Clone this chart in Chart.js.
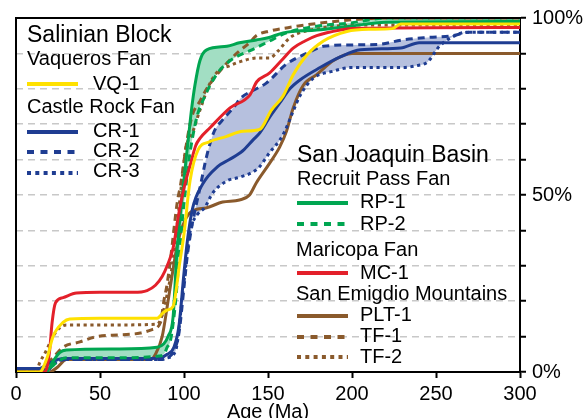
<!DOCTYPE html>
<html><head><meta charset="utf-8">
<script src="https://cdn.jsdelivr.net/npm/chart.js@4.4.1/dist/chart.umd.min.js"></script>
<style>html,body{margin:0;padding:0;background:#fff;overflow:hidden}</style>
</head><body>
<canvas id="c" width="586" height="418"></canvas>
<script>
// ---- data (age in Ma, cumulative %) ----
const xTicks = [0, 50, 100, 150, 200, 250, 300];
const yTickLabels = [0, 50, 100];
const seriesNames = ['VQ-1','MC-1','RP-1','RP-2','CR-1','CR-2','CR-3','PLT-1','TF-1','TF-2'];

const vq1Age = [0,14,18.5,22,28,32,50,84,87.5,90,93.5,97.5,100,103.6,108.3,115,125,135,145,152,159,165,173,183,197,210,224,229,300];
const vq1Pct = [0,0,4,10,14,15,15.2,15.2,16.7,17.5,18.5,31,39,54,62.7,65,66.5,68,68.5,74,78,84,89.5,93.5,96.2,96.8,97,98.3,98.3];

const mc1Age = [0,17,18.5,20,21.5,23.5,28,36,50,70,78,83,87,90,93.5,97,100,104,107,109.5,115.5,127.4,139.3,143.3,151,158,165,172,179,193,200,300];
const mc1Pct = [0,0,1.4,6,14,19.5,21,22.3,22.5,22.5,23,24.5,27,30,35,45,52,59,64,66,69,74.6,78.3,82,84.5,88,91.5,93.5,95,96.6,97,97.3];

const cr1Age = [0,14,18,22,28,50,80,86,90,94,97,100,102,105,111,120,127,135,141,145,151,157,163,169,181,193,205,229,240,300];
const cr1Pct = [1,1,2,3,3.8,3.8,3.8,4,5,7,13,28,37,46,53,58,60,62.5,65.5,67.5,72,76,80,82.5,86,89,91,91.5,93,93];

const cr2Age = [0,16,20,25,30,50,85,90,94,97,100,102,105,109.5,113.5,118,122.6,130,134,141,149,161,173,183,200,215,230,245,260,270,300];
const cr2Pct = [0.5,0.5,1.5,3,3.5,3.5,3.5,4,6,11,24,33,42,52,61,68,71,75,77.5,79.5,81.6,87,90,92,92.4,92.5,93.8,94.5,95,96,96];

const cr3Age = [0,18,22,28,50,85,90,95,99.4,103,105,108,112.5,117,125.6,133,141,145,151,157,160,165,169,177,189,199,230,238,245,252,260,268,300];
const cr3Pct = [0,0,2,3.5,3.5,3.5,4,6,23,38,42,44.5,46.6,50.5,54,55,56.5,58,62,65.5,68,73.7,78,83,85,86,86,86.5,87.6,92,94.7,96,96];

const rp1Age = [0,18,22,26,30,60,84,88,90.5,93.5,95.8,99,102.6,104.6,106.5,109.5,113.5,125.6,133,143,150,159,179,199,220,300];
const rp1Pct = [0,0,3,5.5,6.2,6.5,7,8,10,15.5,34,50,66,74.6,81,88,91,92,93,93.8,94.4,95.8,96.6,97.7,98.8,99];

const rp2Age = [0,16,20,25,30,60,85,88,90,92,95,98,101,103,105,108,112.5,116.7,121.4,127,133,139,151,161,179,199,221,300];
const rp2Pct = [0,0,1,3,4,4,4.5,5,7,9,20,38,52,60,66,72.6,78,82,85.3,87.8,89.5,90.7,93.5,95.8,97.7,98.6,100,100];

const plt1Age = [0,20,25,30,80,83,87,90.5,93.5,96,99,103.6,113.5,123,133,139,143,151,157,161,165,171,179,189,200,300];
const plt1Pct = [0,0,1.5,3.5,3.5,5,10,20,29,36,41,45,46.4,48,48.6,50,53.4,59,63.6,68,74.6,81,84,88,90,90];

const tf1Age = [0,15,18,22,28,38,48,62,74,81,86,88,90,92,96,98,102,105,109.5,113.5,119.6,127,133,139,143,151,165,180,200,220,300];
const tf1Pct = [0,0,2,4,7,8.5,10,10.5,11,12,14,20,25,32,48,53,66,72.6,76.5,80,84,88,90.7,93,95,96.3,97.5,98.5,99.5,100,100];

const tf2Age = [0,12,14,18,22,26,30,60,84,87,90,93,96,99,101,105,109.5,115.5,121,127,133,143.5,151,156,163,170,180,200,300];
const tf2Pct = [0,0,2.5,6,10,12.5,13.3,13.3,13.5,16,22,30,42,55,63,67.5,74,81.6,85.3,86.5,87.6,88.7,88.7,90.7,94.4,96,97,98,98];

// ---- styles ----
const FONT = '"Liberation Sans", Arial, Helvetica, sans-serif';
const C = { yellow:'#FFE100', red:'#E3202A', green:'#00A651', navy:'#1F3D92', brown:'#8A5A2C' };
const DASH = [7,5], DOT = [3.2,3.6];
const LDASH = [7,6.5], LDOT = [4,4.3];

const pts = (a, p) => a.map((x, i) => ({x: x, y: p[i]}));
function ds(name, age, pct, color, dash, fill, fillColor) {
  return {
    label: name, data: pts(age, pct), borderColor: color, borderWidth: 3,
    borderDash: dash, pointRadius: 0, cubicInterpolationMode: 'monotone',
    fill: fill || false, backgroundColor: fillColor || 'transparent', borderCapStyle: 'butt'
  };
}
const datasets = [
  ds(seriesNames[0], vq1Age, vq1Pct, C.yellow, []),
  ds(seriesNames[1], mc1Age, mc1Pct, C.red, []),
  ds(seriesNames[2], rp1Age, rp1Pct, C.green, [], '+1', '#A2DEC3'),
  ds(seriesNames[3], rp2Age, rp2Pct, C.green, DASH),
  ds(seriesNames[4], cr1Age, cr1Pct, C.navy, []),
  ds(seriesNames[5], cr2Age, cr2Pct, C.navy, DASH, '+1', '#B6C0DE'),
  ds(seriesNames[6], cr3Age, cr3Pct, C.navy, DOT),
  ds(seriesNames[7], plt1Age, plt1Pct, C.brown, []),
  ds(seriesNames[8], tf1Age, tf1Pct, C.brown, DASH),
  ds(seriesNames[9], tf2Age, tf2Pct, C.brown, DOT)
];

// ---- legend layout ----
const legendLayout = [
  {t:'Salinian Block', x:27, y:42, s:23},
  {t:'Vaqueros Fan', x:27, y:65, s:20},
  {k:0, x:27, ly:84, tx:93, y:90, color:C.yellow, dash:[]},
  {t:'Castle Rock Fan', x:27, y:113, s:20},
  {k:4, x:27, ly:132, tx:93, y:137, color:C.navy, dash:[]},
  {k:5, x:27, ly:152, tx:93, y:157, color:C.navy, dash:LDASH},
  {k:6, x:27, ly:173, tx:93, y:177, color:C.navy, dash:LDOT},
  {t:'San Joaquin Basin', x:297, y:162, s:23},
  {t:'Recruit Pass Fan', x:297, y:185, s:20},
  {k:2, x:297, ly:203, tx:360, y:208, color:C.green, dash:[]},
  {k:3, x:297, ly:224, tx:360, y:230, color:C.green, dash:LDASH},
  {t:'Maricopa Fan', x:296, y:256, s:20},
  {k:1, x:297, ly:273, tx:360, y:279, color:C.red, dash:[]},
  {t:'San Emigdio Mountains', x:296, y:300, s:20},
  {k:7, x:297, ly:316, tx:360, y:321, color:C.brown, dash:[]},
  {k:8, x:297, ly:337, tx:360, y:342, color:C.brown, dash:LDASH},
  {k:9, x:297, ly:357, tx:360, y:363, color:C.brown, dash:LDOT}
];

const decor = {
  id: 'decor',
  afterDatasetsDraw(chart) {
    const ctx = chart.ctx, a = chart.chartArea;
    ctx.save();
    // frame (left + top)
    ctx.strokeStyle = '#000'; ctx.lineWidth = 2; ctx.setLineDash([]);
    ctx.beginPath();
    ctx.moveTo(a.left, a.bottom); ctx.lineTo(a.left, a.top); ctx.lineTo(a.right, a.top);
    ctx.stroke();
    // legend
    ctx.fillStyle = '#000'; ctx.textBaseline = 'alphabetic'; ctx.textAlign = 'left';
    legendLayout.forEach(it => {
      if (it.t !== undefined) {
        ctx.font = it.s + 'px ' + FONT;
        ctx.fillText(it.t, it.x, it.y);
      } else {
        ctx.beginPath();
        ctx.setLineDash(it.dash); ctx.lineWidth = 4; ctx.strokeStyle = it.color; ctx.lineCap = 'butt';
        ctx.moveTo(it.x, it.ly); ctx.lineTo(it.x + 51, it.ly); ctx.stroke();
        ctx.setLineDash([]);
        ctx.font = '20px ' + FONT;
        ctx.fillText(seriesNames[it.k], it.tx, it.y);
      }
    });
    ctx.restore();
  }
};

new Chart(document.getElementById('c'), {
  type: 'line',
  data: { datasets: datasets },
  plugins: [decor],
  options: {
    responsive: false, animation: false, devicePixelRatio: 1,
    layout: { padding: { left: 16, top: 18, right: 0, bottom: 0 } },
    plugins: { legend: { display: false }, tooltip: { enabled: false }, filler: { drawTime: 'beforeDatasetsDraw' } },
    scales: {
      x: {
        type: 'linear', position: 'bottom', min: 0, max: 300,
        afterBuildTicks: s => { s.ticks = xTicks.map(v => ({value: v})); },
        afterFit: s => { s.height = 46; },
        ticks: { font: { size: 20, family: FONT }, color: '#000', padding: 4, maxRotation: 0 },
        grid: { drawOnChartArea: false, drawTicks: true, tickLength: 6, tickColor: '#000', tickWidth: 2 },
        border: { display: true, color: '#000', width: 2 },
        title: { display: true, text: 'Age (Ma)', color: '#000', font: { size: 20, family: FONT, lineHeight: 1 }, padding: { top: 0, bottom: -4 } }
      },
      y: {
        type: 'linear', position: 'right', min: 0, max: 100,
        afterFit: s => { s.width = 66; },
        ticks: {
          stepSize: 10, font: { size: 20, family: FONT }, color: '#000', padding: 6,
          callback: v => yTickLabels.includes(v) ? v + '%' : ''
        },
        grid: {
          drawOnChartArea: true, drawTicks: true, tickLength: 6, tickColor: '#000', tickWidth: 2, tickBorderDash: [],
          lineWidth: 1.5,
          color: c => (c.tick && (c.tick.value === 0 || c.tick.value === 100)) ? 'rgba(0,0,0,0)' : '#C8C8C8'
        },
        border: { display: true, color: '#000', width: 2, dash: [7, 5] }
      }
    }
  }
});
</script>
</body></html>
